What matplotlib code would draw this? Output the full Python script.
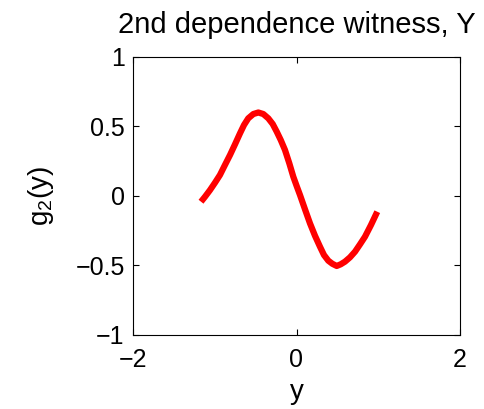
import matplotlib
matplotlib.use("Agg")
import matplotlib.pyplot as plt

plt.rcParams['font.family'] = ['Liberation Sans', 'DejaVu Sans']
plt.rcParams['mathtext.fontset'] = 'custom'
plt.rcParams['mathtext.rm'] = 'Liberation Sans'
plt.rcParams['mathtext.it'] = 'Liberation Sans'

y_vals = [-1.168, -1.119, -1.058, -0.997, -0.936, -0.875, -0.813, -0.752, -0.691,
          -0.642, -0.590, -0.528, -0.467, -0.406, -0.345, -0.291, -0.242, -0.193,
          -0.141, -0.088, -0.039, 0.002, 0.043, 0.104, 0.165, 0.226, 0.287, 0.336,
          0.389, 0.438, 0.492, 0.541, 0.593, 0.654, 0.716, 0.777, 0.838, 0.911, 0.988]
g2_vals = [-0.043, -0.007, 0.041, 0.094, 0.150, 0.222, 0.294, 0.371, 0.450,
           0.510, 0.558, 0.589, 0.600, 0.589, 0.558, 0.517, 0.462, 0.402,
           0.330, 0.234, 0.137, 0.070, 0.005, -0.098, -0.199, -0.288, -0.367, -0.427,
           -0.468, -0.490, -0.506, -0.494, -0.475, -0.444, -0.403, -0.350, -0.295, -0.211, -0.115]
xticks = [-2, 0, 2]
yticks = [-1, -0.5, 0, 0.5, 1]
xtick_labels = ['\u22122', '0', '2']
ytick_labels = ['\u22121', '\u22120.5', '0', '0.5', '1']

fig = plt.figure(figsize=(4.84, 4.09), dpi=100)
ax = fig.add_axes([133/484, 1-334.5/409, 327/484, 277.5/409])
ax.plot(y_vals, g2_vals, color='#ff0000', lw=4.5, solid_capstyle='butt',
        solid_joinstyle='round')
ax.set_xlim(-2, 2)
ax.set_ylim(-1, 1)
ax.set_xticks(xticks)
ax.set_xticklabels(xtick_labels)
ax.set_yticks(yticks)
ax.set_yticklabels(ytick_labels)
ax.tick_params(direction='in', top=True, right=True, labelsize=18, length=4, width=0.8)
ax.tick_params(axis='x', pad=10)
ax.tick_params(axis='y', pad=6)
for s in ax.spines.values():
    s.set_linewidth(0.8)
ax.set_xlabel('y', fontsize=20, labelpad=5)
ax.set_ylabel(r'g$_{2}$(y)', fontsize=20, labelpad=14)
ax.set_title('2nd dependence witness, Y', fontsize=21, pad=17)
fig.savefig('out.png', dpi=100)
